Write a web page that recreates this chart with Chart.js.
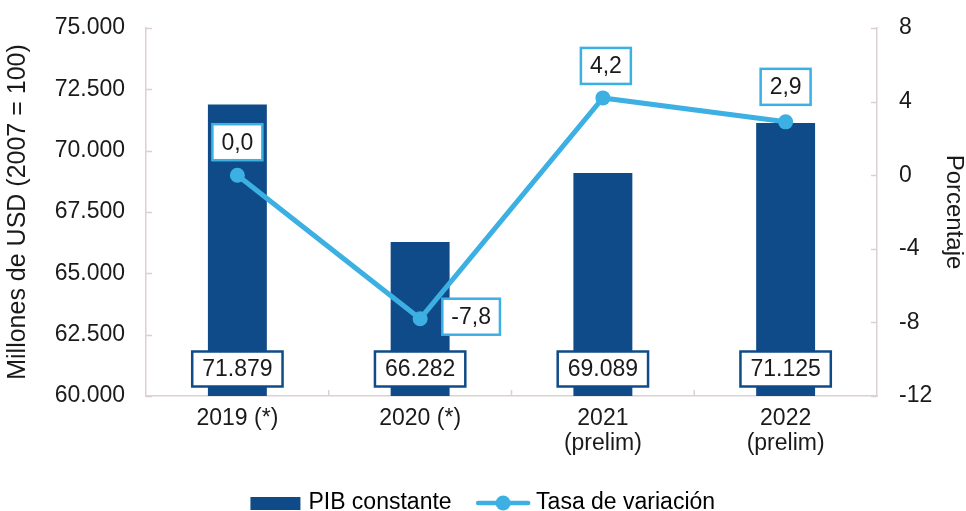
<!DOCTYPE html>
<html>
<head>
<meta charset="utf-8">
<script src="https://cdn.jsdelivr.net/npm/chart.js@4.4.1/dist/chart.umd.min.js"></script>
<style>
  html, body { margin: 0; padding: 0; background: #ffffff; }
  #wrap { width: 966px; height: 511px; }
</style>
</head>
<body>
<div id="wrap"><canvas id="c" width="966" height="511"></canvas></div>
<script>
// ---- Data ----
const categories = [['2019 (*)'], ['2020 (*)'], ['2021', '(prelim)'], ['2022', '(prelim)']];
const pibValues = [71879, 66282, 69089, 71125];
const tasaValues = [0.0, -7.8, 4.2, 2.9];
const seriesNames = ['PIB constante', 'Tasa de variación'];
const leftAxisTitle = 'Millones de USD (2007 = 100)';
const rightAxisTitle = 'Porcentaje';

// ---- Styles ----
const BAR_COLOR = '#0f4b88';
const LINE_COLOR = '#3cb0e2';
const AXIS_COLOR = '#ddd0d0';
const TEXT_COLOR = '#1a1a1a';
const FONT = '"Liberation Sans", Arial, sans-serif';
const FS = 23;

function fmtThousands(v) {
  return String(Math.round(v)).replace(/\B(?=(\d{3})+(?!\d))/g, '.');
}
function fmtPct(v) {
  return v.toFixed(1).replace('.', ',');
}

// legend icons
function makeBarIcon() {
  const c = document.createElement('canvas');
  c.width = 52; c.height = 14;
  const x = c.getContext('2d');
  x.fillStyle = BAR_COLOR;
  x.fillRect(1, 1, 50, 13);
  return c;
}
function makeLineIcon() {
  const c = document.createElement('canvas');
  c.width = 56; c.height = 18;
  const x = c.getContext('2d');
  x.strokeStyle = LINE_COLOR;
  x.lineWidth = 4.5;
  x.lineCap = 'round';
  x.beginPath(); x.moveTo(3, 9); x.lineTo(53, 9); x.stroke();
  x.fillStyle = LINE_COLOR;
  x.beginPath(); x.arc(28, 9, 7.5, 0, Math.PI * 2); x.fill();
  return c;
}
const icons = [makeBarIcon(), makeLineIcon()];

// line label offsets (dx, dy from point)
const lineLabelOffsets = [[0, -33], [51, -2], [3, -32], [0, -35]];

const labelPlugin = {
  id: 'labelBoxes',
  afterDatasetsDraw(chart) {
    const ctx = chart.ctx;
    const area = chart.chartArea;
    ctx.save();
    ctx.font = FS + 'px ' + FONT;
    ctx.textAlign = 'center';
    ctx.textBaseline = 'middle';
    // bar labels
    const barMeta = chart.getDatasetMeta(0);
    barMeta.data.forEach((bar, i) => {
      const txt = fmtThousands(pibValues[i]);
      const tw = ctx.measureText(txt).width;
      const w = tw + 20, h = 35;
      const cx = bar.x, cy = area.bottom - 27;
      ctx.fillStyle = '#ffffff';
      ctx.fillRect(cx - w / 2, cy - h / 2, w, h);
      ctx.strokeStyle = BAR_COLOR;
      ctx.lineWidth = 2.5;
      ctx.strokeRect(cx - w / 2, cy - h / 2, w, h);
      ctx.fillStyle = TEXT_COLOR;
      ctx.fillText(txt, cx, cy + 1);
    });
    // line labels
    const lineMeta = chart.getDatasetMeta(1);
    lineMeta.data.forEach((pt, i) => {
      const txt = fmtPct(tasaValues[i]);
      const tw = ctx.measureText(txt).width;
      const w = tw + 18, h = 36;
      const cx = pt.x + lineLabelOffsets[i][0];
      const cy = pt.y + lineLabelOffsets[i][1];
      ctx.fillStyle = '#ffffff';
      ctx.fillRect(cx - w / 2, cy - h / 2, w, h);
      ctx.strokeStyle = LINE_COLOR;
      ctx.lineWidth = 2.5;
      ctx.strokeRect(cx - w / 2, cy - h / 2, w, h);
      ctx.fillStyle = TEXT_COLOR;
      ctx.fillText(txt, cx, cy + 1);
    });
    ctx.restore();
  },
  afterDraw(chart) {
    // inward tick marks
    const ctx = chart.ctx;
    const area = chart.chartArea;
    const yL = chart.scales.y, yR = chart.scales.y1, x = chart.scales.x;
    ctx.save();
    ctx.strokeStyle = AXIS_COLOR;
    ctx.lineWidth = 1.5;
    ctx.beginPath();
    yL.ticks.forEach(t => {
      const py = Math.round(yL.getPixelForValue(t.value)) + 0.5;
      ctx.moveTo(area.left, py); ctx.lineTo(area.left + 6, py);
    });
    yR.ticks.forEach(t => {
      const py = Math.round(yR.getPixelForValue(t.value)) + 0.5;
      ctx.moveTo(area.right, py); ctx.lineTo(area.right - 6, py);
    });
    const n = categories.length;
    for (let i = 1; i < n; i++) {
      const px = (x.getPixelForValue(i - 1) + x.getPixelForValue(i)) / 2;
      ctx.moveTo(px, area.bottom); ctx.lineTo(px, area.bottom - 6);
    }
    ctx.stroke();
    ctx.restore();
  }
};

const chart = new Chart(document.getElementById('c'), {
  data: {
    labels: categories,
    datasets: [
      {
        type: 'bar',
        label: seriesNames[0],
        data: pibValues,
        backgroundColor: BAR_COLOR,
        yAxisID: 'y',
        barPercentage: 0.645,
        categoryPercentage: 0.5,
        order: 2
      },
      {
        type: 'line',
        label: seriesNames[1],
        data: tasaValues,
        borderColor: LINE_COLOR,
        backgroundColor: LINE_COLOR,
        borderWidth: 5,
        pointRadius: 7.5,
        pointHoverRadius: 7.5,
        pointBackgroundColor: LINE_COLOR,
        pointBorderWidth: 0,
        yAxisID: 'y1',
        tension: 0,
        order: 1
      }
    ]
  },
  options: {
    responsive: false,
    animation: false,
    devicePixelRatio: 1,
    layout: { padding: { top: 28, right: 0, bottom: -13.5, left: 3 } },
    plugins: {
      tooltip: { enabled: false },
      legend: {
        position: 'bottom',
        labels: {
          usePointStyle: true,
          pointStyleWidth: 43,
          boxHeight: 14,
          padding: 30,
          color: TEXT_COLOR,
          font: { family: FONT, size: FS },
          generateLabels(chart) {
            return seriesNames.map((n, i) => ({
              text: n,
              pointStyle: icons[i],
              fillStyle: i === 0 ? BAR_COLOR : LINE_COLOR,
              strokeStyle: 'transparent',
              lineWidth: 0,
              hidden: false,
              datasetIndex: i
            }));
          }
        }
      }
    },
    scales: {
      x: {
        grid: { display: true, drawOnChartArea: false, drawTicks: false, color: 'transparent' },
        border: { display: true, color: AXIS_COLOR, width: 1.5 },
        ticks: { color: TEXT_COLOR, font: { family: FONT, size: FS, lineHeight: 1.05 }, padding: 11, maxRotation: 0 },
        afterFit(s) { s.height = 65.5; }
      },
      y: {
        position: 'left',
        min: 60000, max: 75000,
        grid: { display: true, drawOnChartArea: false, drawTicks: false, color: 'transparent' },
        border: { display: true, color: AXIS_COLOR, width: 1.5 },
        ticks: {
          stepSize: 2500, color: TEXT_COLOR, padding: 21,
          font: { family: FONT, size: FS },
          callback: v => fmtThousands(v)
        },
        title: { display: true, text: leftAxisTitle, color: TEXT_COLOR, font: { family: FONT, size: 25, lineHeight: 1.2 }, padding: { top: 0, bottom: 0 } },
        afterFit(s) { s.width = 143; s.paddingTop = 0; s.paddingBottom = 0; }
      },
      y1: {
        position: 'right',
        min: -12, max: 8,
        grid: { display: true, drawOnChartArea: false, drawTicks: false, color: 'transparent' },
        border: { display: true, color: AXIS_COLOR, width: 1.5 },
        ticks: {
          stepSize: 4, color: TEXT_COLOR, padding: 22,
          font: { family: FONT, size: FS },
          callback: v => String(v)
        },
        title: { display: true, text: rightAxisTitle, color: TEXT_COLOR, font: { family: FONT, size: 24, lineHeight: 1 }, padding: { top: 0, bottom: 0 } },
        afterFit(s) { s.width = 89; s.paddingTop = 0; s.paddingBottom = 0; }
      }
    }
  },
  plugins: [labelPlugin]
});
</script>
</body>
</html>
